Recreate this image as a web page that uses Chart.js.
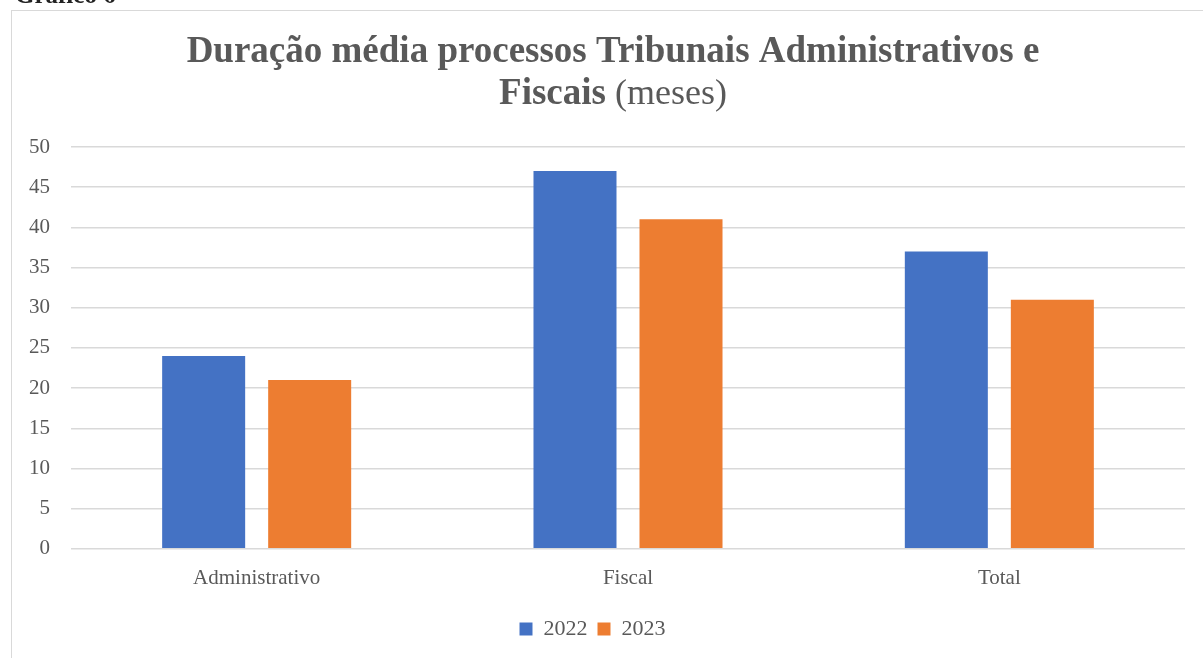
<!DOCTYPE html>
<html>
<head>
<meta charset="utf-8">
<script src="https://cdn.jsdelivr.net/npm/chart.js@4/dist/chart.umd.min.js"></script>
<style>
  html, body { margin: 0; padding: 0; background: #fff; overflow: hidden; }
  #wrap { position: absolute; left: 0; top: 0; width: 1203px; height: 658px; }
  #frame { position: absolute; left: 11px; top: 10px; width: 1300px; height: 800px; border: 1px solid #d9d9d9; pointer-events: none; }
  #caption { position: absolute; left: 15px; top: -19px; font: bold 25px "Liberation Serif", serif; color: #222; line-height: 28px; }
</style>
</head>
<body>
<div id="wrap">
  <div id="caption">Gráfico 6</div>
  <div id="frame"></div>
  <canvas id="c" width="1203" height="658"></canvas>
</div>
<script>
const categories = ["Administrativo", "Fiscal", "Total"];
const seriesLabels = ["2022", "2023"];
const values2022 = [24, 47, 37];
const values2023 = [21, 41, 31];
const titleLine1 = "Duração média processos Tribunais Administrativos e";
const titleLine2Bold = "Fiscais";
const titleLine2Normal = " (meses)";

const FONT = '"Liberation Serif", "DejaVu Serif", serif';
const GREY = '#595959';

const titlePlugin = {
  id: 'customTitle',
  afterDraw(chart) {
    const ctx = chart.ctx;
    const cx = 613;
    ctx.save();
    ctx.fillStyle = GREY;
    ctx.textBaseline = 'alphabetic';
    ctx.font = 'bold 37px ' + FONT;
    ctx.textAlign = 'center';
    ctx.fillText(titleLine1, cx, 62);
    const boldF = 'bold 37px ' + FONT;
    const normF = '36px ' + FONT;
    ctx.font = boldF;
    const w1 = ctx.measureText(titleLine2Bold).width;
    ctx.font = normF;
    const w2 = ctx.measureText(titleLine2Normal).width;
    let x = cx - (w1 + w2) / 2;
    ctx.textAlign = 'left';
    ctx.font = boldF;
    ctx.fillText(titleLine2Bold, x, 104);
    ctx.font = normF;
    ctx.fillText(titleLine2Normal, x + w1, 104);
    ctx.restore();
  }
};

new Chart(document.getElementById('c'), {
  type: 'bar',
  data: {
    labels: categories,
    datasets: [
      { label: seriesLabels[0], data: values2022, backgroundColor: '#4472C4' },
      { label: seriesLabels[1], data: values2023, backgroundColor: '#ED7D31' }
    ]
  },
  options: {
    responsive: false,
    animation: false,
    devicePixelRatio: 1,
    layout: { padding: { top: 147, right: 18, bottom: 8, left: 0 } },
    datasets: { bar: { categoryPercentage: 0.571, barPercentage: 0.783 } },
    scales: {
      x: {
        grid: { display: false, drawTicks: false },
        border: { display: false },
        ticks: { color: GREY, font: { family: FONT, size: 21 }, padding: 17 }
      },
      y: {
        min: 0, max: 50,
        afterFit(scale) { scale.width = 71; },
        grid: { color: '#d9d9d9', lineWidth: 1.5, drawTicks: false },
        border: { display: false },
        ticks: { stepSize: 5, color: GREY, font: { family: FONT, size: 21 }, padding: 21 }
      }
    },
    plugins: {
      title: { display: false },
      tooltip: { enabled: false },
      legend: {
        position: 'bottom',
        labels: { color: GREY, font: { family: FONT, size: 22 }, boxWidth: 13, boxHeight: 13, padding: 10 }
      }
    }
  },
  plugins: [titlePlugin]
});
</script>
</body>
</html>
